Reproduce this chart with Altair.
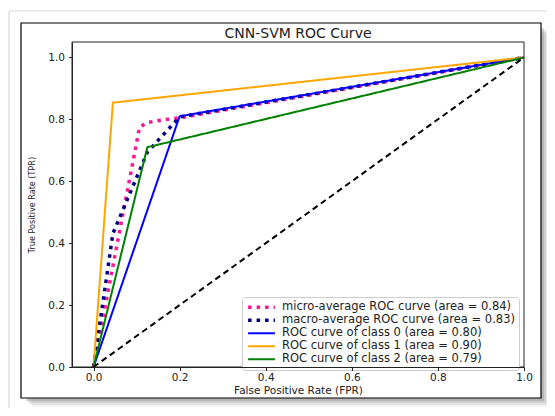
import altair as alt
import pandas as pd

# ---- data ----
series_names = ["micro-average ROC curve", "macro-average ROC curve",
                "ROC curve of class 0", "ROC curve of class 1", "ROC curve of class 2"]
series_areas = [0.84, 0.83, 0.80, 0.90, 0.79]
series_colors = ["#ff1493", "#000080", "#0000ff", "#ffa500", "#008000"]

micro_fpr = [0.0, 0.107, 0.125, 0.16, 0.2, 1.0]
micro_tpr = [0.0, 0.775, 0.79, 0.798, 0.805, 1.0]
macro_fpr = [0.0, 0.045, 0.125, 0.2, 1.0]
macro_tpr = [0.0, 0.431, 0.694, 0.808, 1.0]
class0_fpr = [0.0, 0.2, 1.0]
class0_tpr = [0.0, 0.81, 1.0]
class1_fpr = [0.0, 0.045, 1.0]
class1_tpr = [0.0, 0.854, 1.0]
class2_fpr = [0.0, 0.125, 1.0]
class2_tpr = [0.0, 0.71, 1.0]
chance_fpr = [0.0, 1.0]
chance_tpr = [0.0, 1.0]

x_ticks = [0.0, 0.2, 0.4, 0.6, 0.8, 1.0]
y_ticks = [0.0, 0.2, 0.4, 0.6, 0.8, 1.0]
chart_title = "CNN-SVM ROC Curve"

# ---- build table ----
labels = [f"{n} (area = {a:.2f})" for n, a in zip(series_names, series_areas)]
curves = [(micro_fpr, micro_tpr), (macro_fpr, macro_tpr), (class0_fpr, class0_tpr),
          (class1_fpr, class1_tpr), (class2_fpr, class2_tpr)]
rows = []
for lab, (fx, ty) in zip(labels, curves):
    for i, (a, b) in enumerate(zip(fx, ty)):
        rows.append({"series": lab, "fpr": a, "tpr": b, "idx": i})
df = pd.DataFrame(rows)
df_chance = pd.DataFrame({"fpr": chance_fpr, "tpr": chance_tpr})
one = pd.DataFrame({"a": [0]})

W, H = 452, 325
dot = [3.5, 5]
solid = [1, 0]

x_enc = alt.X("fpr:Q", scale=alt.Scale(domain=[-0.05, 1.0], nice=False, zero=False),
              axis=alt.Axis(values=x_ticks, format=".1f", title="False Positive Rate (FPR)",
                            labelPadding=2, titlePadding=2, labelFlush=False, zindex=1))
y_enc = alt.Y("tpr:Q", scale=alt.Scale(domain=[0, 1.05], nice=False, zero=False),
              axis=alt.Axis(values=y_ticks, format=".1f", title="True Positive Rate (TPR)",
                            labelPadding=4, titlePadding=11, labelFlush=False, zindex=1,
                            titleFont="DejaVu Sans Condensed", titleFontSize=9))

legend = alt.Legend(title=None, orient="none", legendX=170, legendY=255,
                    symbolType="stroke", symbolSize=720, labelFontSize=11.5,
                    labelColor="#222", padding=4, fillColor="white", strokeColor="#cccccc",
                    cornerRadius=3, labelOffset=5, rowPadding=0, clipHeight=12.5,
                    labelLimit=400)

enc = dict(
    x=x_enc, y=y_enc,
    color=alt.Color("series:N", scale=alt.Scale(domain=labels, range=series_colors),
                    legend=legend, sort=labels),
    strokeDash=alt.StrokeDash("series:N", scale=alt.Scale(domain=labels,
                              range=[dot, dot, solid, solid, solid]), legend=legend, sort=labels),
    strokeWidth=alt.StrokeWidth("series:N", scale=alt.Scale(type="ordinal", domain=labels,
                                range=[3.5, 3.5, 2, 2, 2]), legend=legend, sort=labels),
    order=alt.Order("idx:Q"),
)

dotted_layer = alt.Chart(df).transform_filter(
    alt.FieldOneOfPredicate(field="series", oneOf=labels[:2])
).mark_line(strokeCap="butt").encode(**enc)

solid_layer = alt.Chart(df).transform_filter(
    alt.FieldOneOfPredicate(field="series", oneOf=labels[2:])
).mark_line().encode(**enc)

chance_layer = alt.Chart(df_chance).mark_line(
    color="black", strokeDash=[6, 4], strokeWidth=2
).encode(x="fpr:Q", y="tpr:Q")

# ---- decorations (figure frame, shadow, page border) ----
deco = []
for k, op in zip([9, 7, 5, 3], [0.06, 0.10, 0.15, 0.22]):
    deco.append(alt.Chart(one).mark_rect(color="#555", opacity=op).encode(
        x=alt.value(-51 + k + 2), x2=alt.value(469 + k), y=alt.value(-19 + k + 2), y2=alt.value(356 + k)))
deco.append(alt.Chart(one).mark_rect(fill="white", stroke="black", strokeWidth=1.2).encode(
    x=alt.value(-51), x2=alt.value(469), y=alt.value(-19), y2=alt.value(356)))
deco.append(alt.Chart(one).mark_rule(color="#d6d6e4", strokeWidth=1.2).encode(
    x=alt.value(-63), y=alt.value(-31), y2=alt.value(380)))
deco.append(alt.Chart(one).mark_rule(color="#d6d6e4", strokeWidth=1.2).encode(
    x=alt.value(-63), x2=alt.value(490), y=alt.value(-31)))

title_layer = alt.Chart(one).mark_text(
    text=chart_title, fontSize=14, color="#222", baseline="middle", align="center"
).encode(x=alt.value(W / 2), y=alt.value(-8))

frame = alt.Chart(one).mark_rect(fill=None, stroke="#222", strokeWidth=1).encode(
    x=alt.value(0), x2=alt.value(W), y=alt.value(0), y2=alt.value(H))

chart = alt.layer(*deco, dotted_layer, solid_layer, chance_layer, frame, title_layer).properties(
    width=W, height=H,
    autosize=alt.AutoSizeParams(type="none"),
    padding={"left": 64, "top": 34, "right": 23, "bottom": 41},
).configure(
    font="DejaVu Sans", background="white"
).configure_view(stroke=None).configure_axis(
    grid=False, domainColor="#222", tickColor="#222", tickSize=3.5,
    labelFontSize=10.5, labelColor="#222", titleFontSize=10.5, titleColor="#222",
    titleFontWeight="normal", labelFont="DejaVu Sans"
)

chart.save("out.html", embed_options={"renderer": "svg", "actions": False})
